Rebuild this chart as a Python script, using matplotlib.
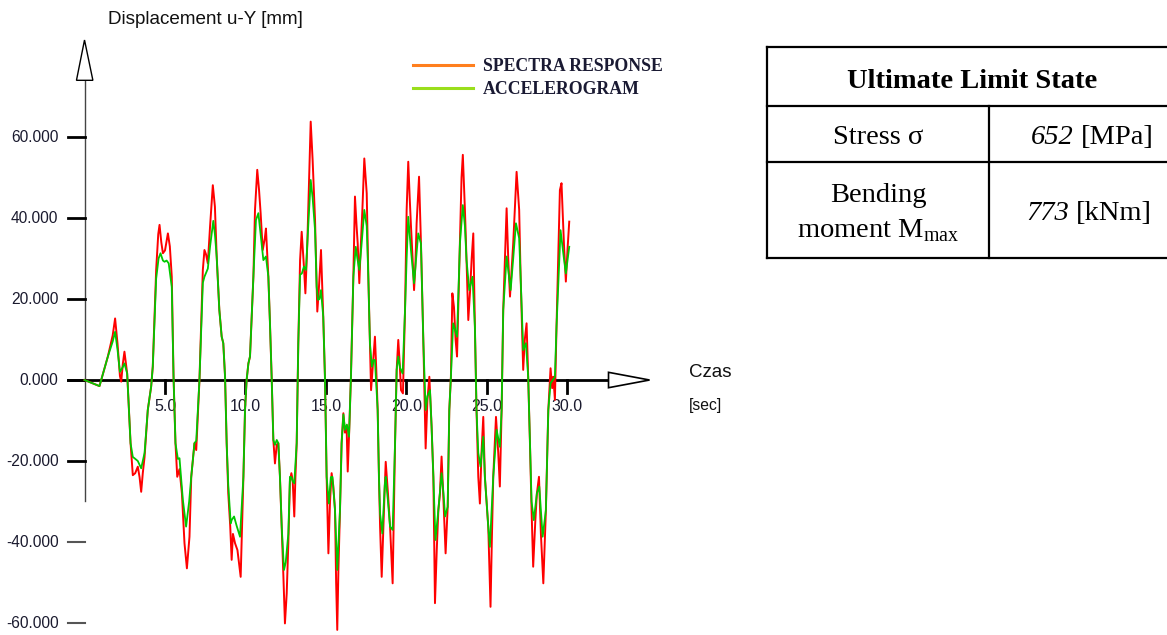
import matplotlib
matplotlib.use('Agg')
import matplotlib.pyplot as plt
from matplotlib.lines import Line2D
from matplotlib.patches import Polygon

plt.rcParams['font.family'] = ['Liberation Sans', 'DejaVu Sans']
plt.rcParams['mathtext.fontset'] = 'custom'
plt.rcParams['mathtext.rm'] = 'Liberation Serif'

# Spectra response (red) - czas [sec], przemieszczenie [mm]
red_t = [0.0, 0.5, 0.93, 1.45, 1.75, 1.9, 2.05, 2.2, 2.28, 2.38, 2.48, 2.65, 2.86, 3.0, 3.15, 3.31,
         3.42, 3.52, 3.62, 3.73, 3.93, 4.14, 4.24, 4.45, 4.58, 4.66, 4.77, 4.87, 5.0, 5.18, 5.3, 5.42,
         5.53, 5.65, 5.76, 5.9, 6.05, 6.21, 6.36, 6.52, 6.63, 6.83, 6.94, 7.14, 7.35, 7.45, 7.55, 7.66,
         7.8, 7.97, 8.1, 8.21, 8.375, 8.52, 8.62, 8.73, 8.83, 8.93, 9.05, 9.14, 9.22, 9.35, 9.5, 9.7,
         9.87, 9.97, 10.07, 10.18, 10.28, 10.49, 10.59, 10.73, 10.84, 10.94, 11.07, 11.2, 11.27, 11.42,
         11.52, 11.63, 11.73, 11.83, 11.94, 12.04, 12.14, 12.25, 12.35, 12.45, 12.56, 12.66, 12.76,
         12.85, 12.93, 13.03, 13.1, 13.18, 13.28, 13.39, 13.49, 13.63, 13.72, 13.84, 13.95, 14.05,
         14.17, 14.32, 14.42, 14.46, 14.55, 14.69, 14.83, 14.94, 15.04, 15.15, 15.25, 15.35, 15.45,
         15.56, 15.63, 15.7, 15.77, 15.87, 15.97, 16.08, 16.18, 16.28, 16.35, 16.43, 16.55, 16.7, 16.8,
         16.9, 16.97, 17.07, 17.15, 17.26, 17.38, 17.53, 17.63, 17.73, 17.8, 17.9, 18.04, 18.12, 18.21,
         18.29, 18.36, 18.46, 18.55, 18.62, 18.71, 18.85, 18.98, 19.14, 19.29, 19.39, 19.49, 19.58,
         19.66, 19.78, 19.91, 20.01, 20.11, 20.2, 20.28, 20.38, 20.47, 20.55, 20.63, 20.78, 20.9, 21.05,
         21.19, 21.3, 21.42, 21.56, 21.67, 21.77, 21.88, 21.98, 22.08, 22.18, 22.3, 22.43, 22.56, 22.66,
         22.76, 22.85, 22.95, 23.05, 23.14, 23.32, 23.42, 23.5, 23.63, 23.73, 23.84, 23.95, 24.05, 24.15,
         24.25, 24.35, 24.46, 24.56, 24.66, 24.77, 24.87, 25.08, 25.22, 25.3, 25.39, 25.56, 25.7, 25.8,
         25.91, 26.01, 26.22, 26.32, 26.43, 26.63, 26.84, 27.0, 27.09, 27.25, 27.35, 27.46, 27.56, 27.67,
         27.77, 27.87, 28.0, 28.1, 28.23, 28.35, 28.5, 28.66, 28.81, 28.95, 29.05, 29.12, 29.22, 29.32,
         29.53, 29.63, 29.78, 29.9, 30.0, 30.11]
red_u = [0.0, -0.8, -1.5, 5.8, 11.0, 15.2, 9.0, 1.0, -0.4, 4.0, 7.0, 1.6, -15.6, -23.5, -23.0, -21.4,
         -24.0, -27.6, -23.0, -19.0, -7.4, -1.6, 3.3, 27.2, 36.0, 38.3, 34.0, 31.3, 32.0, 36.2, 33.0, 25.5,
         0.8, -15.6, -23.9, -22.0, -28.0, -40.3, -46.5, -38.7, -23.9, -15.6, -17.3, 0.0, 27.2, 32.1, 31.0, 28.8,
         38.0, 48.1, 42.8, 30.5, 17.3, 10.7, 9.1, 0.8, -15.6, -28.0, -36.0, -44.4, -38.0, -40.3, -42.0, -48.6,
         -23.9, -7.4, 0.0, 4.1, 5.8, 25.5, 42.0, 51.9, 47.0, 41.2, 32.1, 35.0, 37.4, 25.5,
         14.0, 0.0, -14.8, -20.6, -16.0, -15.6, -23.9, -36.2, -48.0, -60.1, -52.7, -40.3, -25.0,
         -23.0, -24.7, -33.7, -24.0, -15.6, 9.1, 29.6, 36.6, 28.0, 21.4, 33.7, 50.0, 63.8,
         54.3, 39.5, 23.9, 16.9, 22.0, 32.1, 15.6, 0.0, -23.9, -42.8, -30.0, -23.0, -26.0,
         -32.1, -50.0, -61.7, -47.0, -32.1, -15.6, -8.2, -13.0, -11.5, -22.6, -14.0, 0.8, 25.5, 45.3,
         38.0, 33.7, 23.9, 32.0, 42.0, 54.7, 46.1, 25.5, 9.1, -2.5, 3.0, 10.7, 3.0, -7.4,
         -23.9, -36.2, -48.6, -38.0, -30.0, -20.2, -28.0, -36.2, -50.2, -15.6, 2.5, 9.9, 4.0,
         -2.5, -3.3, 17.3, 42.0, 53.9, 45.0, 37.9, 30.0, 22.2, 28.0, 38.7, 50.2, 33.7, 9.1,
         -16.9, -5.0, 0.8, -11.5, -23.9, -55.1, -42.0, -32.1, -28.0, -18.9, -30.0, -42.8, -31.3, -7.4,
         0.8, 21.4, 18.0, 10.0, 5.8, 33.7, 50.0, 55.6, 42.0, 29.6, 14.8, 22.0, 30.0, 36.2,
         13.2, -7.4, -23.9, -30.5, -18.0, -9.1, -23.9, -36.2, -56.0, -40.0, -23.9, -9.1, -18.0, -26.3,
         -7.4, 17.3, 42.4, 30.0, 20.6, 33.7, 51.4, 42.0, 25.5, 2.5, 10.0, 14.0, 0.8, -15.6,
         -32.1, -46.1, -35.0, -28.0, -23.9, -38.0, -50.2, -32.1, -7.4, 2.9, -2.0, 0.8, -4.9, 13.2,
         46.9, 48.6, 33.7, 24.3, 32.0, 39.1]

# Accelerogram (green)
green_t = [0.0, 0.5, 0.93, 1.45, 1.75, 1.9, 2.05, 2.2, 2.35, 2.48, 2.65, 2.86, 3.0, 3.1, 3.31, 3.52,
           3.73, 3.93, 4.14, 4.24, 4.45, 4.6, 4.72, 4.87, 4.97, 5.1, 5.23, 5.42, 5.53, 5.65, 5.8, 5.9,
           6.11, 6.31, 6.5, 6.63, 6.83, 6.94, 7.14, 7.35, 7.45, 7.66, 7.8, 8.0, 8.1, 8.21, 8.375, 8.52,
           8.62, 8.73, 8.83, 8.93, 9.08, 9.15, 9.29, 9.45, 9.66, 9.87, 9.97, 10.07, 10.18, 10.28, 10.49,
           10.65, 10.8, 10.94, 11.11, 11.27, 11.42, 11.52, 11.63, 11.73, 11.83, 11.94, 12.04, 12.14,
           12.25, 12.39, 12.5, 12.66, 12.76, 12.85, 12.93, 13.03, 13.18, 13.28, 13.39, 13.5, 13.63,
           13.76, 13.84, 14.05, 14.17, 14.32, 14.42, 14.5, 14.6, 14.69, 14.83, 14.94, 15.04, 15.18,
           15.3, 15.4, 15.56, 15.7, 15.87, 15.97, 16.08, 16.18, 16.3, 16.43, 16.55, 16.7, 16.85, 16.95,
           17.07, 17.2, 17.38, 17.53, 17.63, 17.73, 17.85, 17.95, 18.04, 18.21, 18.29, 18.36, 18.5,
           18.65, 18.71, 18.85, 18.98, 19.14, 19.29, 19.39, 19.49, 19.6, 19.76, 19.91, 20.01, 20.11,
           20.28, 20.47, 20.6, 20.73, 20.9, 21.05, 21.19, 21.3, 21.46, 21.56, 21.67, 21.8, 21.98, 22.18,
           22.3, 22.4, 22.56, 22.66, 22.76, 22.9, 23.14, 23.32, 23.5, 23.63, 23.73, 23.9, 24.1, 24.25,
           24.35, 24.46, 24.6, 24.77, 24.87, 25.08, 25.18, 25.39, 25.6, 25.8, 25.91, 26.01, 26.22,
           26.47, 26.63, 26.8, 27.0, 27.09, 27.25, 27.42, 27.56, 27.67, 27.77, 27.91, 28.1, 28.25,
           28.46, 28.66, 28.81, 28.95, 29.22, 29.32, 29.57, 29.78, 29.9, 30.11]
green_u = [0.0, -0.8, -1.5, 5.8, 9.5, 11.9, 7.5, 2.0, 3.0, 4.1, 1.6, -15.6, -19.0, -19.3, -20.0, -21.8,
           -18.0, -7.4, -1.6, 3.3, 25.0, 30.0, 31.3, 29.5, 29.2, 29.5, 28.8, 23.0, 0.8, -15.6, -19.5, -19.3,
           -29.6, -36.2, -30.0, -23.9, -15.6, -15.0, 0.0, 24.0, 25.5, 27.5, 33.0, 39.3, 36.0, 30.5, 17.3, 10.7,
           9.1, 0.8, -15.6, -26.0, -35.4, -34.5, -33.7, -36.0, -38.7, -23.9, -7.4, 0.0, 4.1, 5.8, 25.5,
           39.5, 41.2, 36.0, 29.6, 30.5, 25.5, 14.0, 0.0, -14.8, -16.0, -14.8, -15.6, -23.9,
           -36.2, -46.9, -45.0, -38.0, -23.9, -24.0, -25.0, -25.5, -15.6, 9.1, 26.0, 26.3, 28.0,
           27.2, 33.7, 49.4, 45.0, 37.0, 23.0, 19.8, 20.0, 22.2, 15.6, 0.0, -23.9, -30.5,
           -24.0, -23.9, -32.1, -46.9, -32.1, -15.6, -8.5, -12.3, -11.0, -14.0, 0.8, 25.5, 32.9, 30.0,
           27.2, 33.0, 42.0, 38.0, 25.5, 9.1, 3.3, 5.0, 4.9, -7.4, -23.9, -33.0, -37.9,
           -26.0, -23.9, -30.0, -36.2, -37.0, -15.6, 2.5, 5.8, 3.0, 1.6, 17.3, 30.0, 40.3,
           32.0, 23.9, 30.0, 36.2, 33.7, 9.1, -7.4, -4.0, -2.5, -11.5, -23.9, -39.5, -32.1, -23.0,
           -28.0, -33.7, -31.3, -7.4, 0.8, 14.0, 10.7, 33.7, 43.2, 38.0, 29.6, 22.2, 25.5, 13.2,
           -7.4, -18.0, -21.4, -14.0, -23.9, -36.2, -41.2, -23.9, -12.3, -16.5, -7.4, 17.3, 30.5,
           22.2, 30.0, 38.7, 35.0, 25.5, 7.4, 9.1, 0.8, -15.6, -30.0, -34.6, -28.0, -26.3,
           -38.7, -32.1, -7.4, -0.8, 0.8, 13.2, 37.0, 30.0, 26.3, 32.9]

y_ticks = [-60, -40, -20, 0, 20, 40, 60]
x_ticks = [5, 10, 15, 20, 25, 30]

# tabela ULS
stress = 652
moment = 773

fig = plt.figure(figsize=(11.67, 6.35), dpi=100)
ax = fig.add_axes([0, 0, 760 / 1167, 1])
ax.set_xlim(-5.25, 41.96)
ax.set_ylim(-62.96, 93.83)
ax.axis('off')

# osie ze strzalkami
ax.plot([0, 0], [-29.9, 82], color='#444444', lw=1.0, zorder=2)
ax.add_patch(Polygon([[0, 83.95], [-0.5, 74.0], [0.52, 74.0]], closed=True,
                     facecolor='white', edgecolor='black', lw=1.0, zorder=3))
ax.plot([-1.02, 34.5], [0, 0], color='black', lw=2.0, zorder=2)
ax.add_patch(Polygon([[32.55, 1.9], [32.55, -1.9], [35.1, 0]], closed=True,
                     facecolor='white', edgecolor='black', lw=1.2, zorder=3))

for v in y_ticks:
    c = 'black' if v >= -20 else '#555555'
    ax.plot([-1.02, 0.0], [v, v], color=c, lw=2.0 if v >= -20 else 1.5, zorder=2)
    ax.text(-1.62, v, f'{v:.3f}', ha='right', va='center', fontsize=11.2, color='#1a1a2e')

for t in x_ticks:
    ax.plot([t, t], [0, -3.3], color='black', lw=2.0, zorder=2)
    ax.text(t, -6.6, f'{t:.1f}', ha='center', va='center', fontsize=11.5, color='#1a1a2e')

ax.plot(red_t, red_u, color='#ff0000', lw=1.4, zorder=4)
ax.plot(green_t, green_u, color='#00c800', lw=1.3, zorder=5)

ax.text(1.45, 88.9, 'Displacement u-Y [mm]', ha='left', va='center', fontsize=13.6, color='#111111')
ax.text(37.55, 1.8, 'Czas', ha='left', va='center', fontsize=13.5, color='#111111')
ax.text(37.55, -6.2, '[sec]', ha='left', va='center', fontsize=11.3, color='#111111')

handles = [Line2D([], [], color='#ff7f1e', lw=2.2), Line2D([], [], color='#9ade1c', lw=2.2)]
ax.legend(handles, ['SPECTRA RESPONSE', 'ACCELEROGRAM'], loc='upper left',
          bbox_to_anchor=(413 / 1167, 1 - 58 / 635), bbox_transform=fig.transFigure,
          frameon=False, handlelength=3.4, handletextpad=0.55, labelspacing=0.33,
          borderpad=0, borderaxespad=0,
          prop={'family': 'Liberation Serif', 'size': 12.8, 'weight': 'bold'},
          labelcolor='#1a1a33')

# tabela po prawej
tab = fig.add_axes([0, 0, 1, 1])
tab.set_xlim(0, 1167)
tab.set_ylim(635, 0)
tab.axis('off')
for yy in [47, 106, 162, 258]:
    tab.plot([767, 1167], [yy, yy], color='black', lw=1.6)
tab.plot([767, 767], [47, 258], color='black', lw=1.6)
tab.plot([989, 989], [106, 258], color='black', lw=1.6)

serif = {'family': 'Liberation Serif', 'size': 20.5}
tab.text(972, 82, 'Ultimate Limit State', ha='center', va='center', weight='bold', **serif)
tab.text(878, 137, 'Stress σ', ha='center', va='center', **serif)
tab.text(1074, 137, str(stress), ha='right', va='center', style='italic', **serif)
tab.text(1081, 137, '[MPa]', ha='left', va='center', **serif)
tab.text(878, 196, 'Bending', ha='center', va='center', **serif)
tab.text(878, 231, r'moment M$_{\mathrm{max}}$', ha='center', va='center', **serif)
tab.text(1069, 214, str(moment), ha='right', va='center', style='italic', **serif)
tab.text(1076, 214, '[kNm]', ha='left', va='center', **serif)

fig.savefig('out.png', dpi=100)
